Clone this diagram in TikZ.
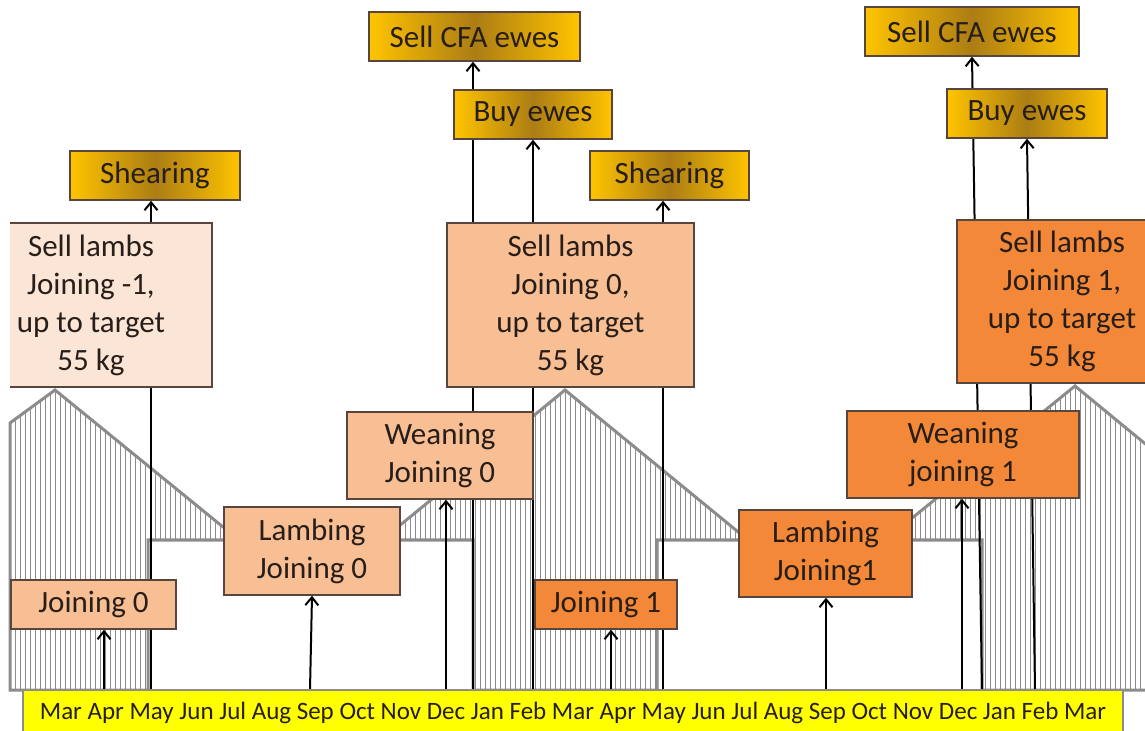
\documentclass[tikz,border=0pt]{standalone}
\usepackage{fontspec}
\setmainfont{Carlito}
\usepackage{xcolor}
\definecolor{grey50}{gray}{.50}
\definecolor{grey55}{gray}{.55}
\definecolor{edge}{RGB}{88,70,62}
\definecolor{ink}{RGB}{40,30,25}
\definecolor{goldlight}{RGB}{255,196,0}
\definecolor{golddark}{RGB}{172,125,20}
\definecolor{peachlight}{RGB}{251,229,214}
\definecolor{peach}{RGB}{248,190,148}
\definecolor{orangebox}{RGB}{243,136,56}
\definecolor{bandyellow}{RGB}{255,255,0}
\usepackage{tikz}
\usetikzlibrary{positioning,arrows.meta,backgrounds,patterns.meta}

\begin{document}
\begin{tikzpicture}[
    x=0.5pt, y=-0.5pt,
    font=\fontsize{15.5}{19}\selectfont,
    event/.style={rectangle, draw=edge, line width=0.7pt, left color=goldlight,
      right color=goldlight, middle color=golddark, minimum height=24.5pt, text=ink},
    stage/.style={rectangle, draw=edge, line width=0.7pt, align=center,
      text=ink, inner sep=2pt},
    flock/.style={draw=grey55, line width=1.5pt, line join=miter,
      pattern={Lines[angle=90, distance=2.5pt, line width=0.5pt]},
      pattern color=grey55},
    link/.style={->, line width=1pt},
    >={Straight Barb[length=4pt, width=6.5pt]}
  ]
    \useasboundingbox (0,0) rectangle (1145,731);
    \clip (10,-20) rectangle (1200,760);

    % events on top
    \node[event, minimum width=85pt] (shearA) at (155,175.5) {Shearing};
    \node[event, minimum width=105.5pt] (cfaA) at (474.5,36.5) {Sell CFA ewes};
    \node[event, minimum width=79pt] (buyA) at (533,114.5) {Buy ewes};
    \node[event, minimum width=79.5pt] (shearB) at (669.5,175.5) {Shearing};
    \node[event, minimum width=107pt] (cfaB) at (972,31.5) {Sell CFA ewes};
    \node[event, minimum width=80pt] (buyB) at (1027,113.5) {Buy ewes};

    % lamb sales
    \node[stage, fill=peachlight, minimum width=121pt, minimum height=82pt] (sellA) at (91,305)
      {Sell lambs\\Joining -1,\\up to target\\55 kg};
    \node[stage, fill=peach, minimum width=123.5pt, minimum height=82pt] (sellB) at (570.5,305)
      {Sell lambs\\Joining 0,\\up to target\\55 kg};
    \node[stage, fill=orangebox, minimum width=105pt, minimum height=81.5pt] (sellC) at (1062,301.5)
      {Sell lambs\\Joining 1,\\up to target\\55 kg};

    % weaning, lambing, joining
    \node[stage, fill=peach, minimum width=93pt, minimum height=43.5pt] (weanA) at (440,455.5) {Weaning\\Joining 0};
    \node[stage, fill=orangebox, minimum width=116pt, minimum height=43.5pt] (weanB) at (963,454.5) {Weaning\\joining 1};
    \node[stage, fill=peach, minimum width=88pt, minimum height=44pt] (lambA) at (312,551) {Lambing\\Joining 0};
    \node[stage, fill=orangebox, minimum width=86.5pt, minimum height=43.5pt] (lambB) at (825.5,553.5) {Lambing\\Joining1};
    \node[stage, fill=peach, minimum width=82.5pt, minimum height=24.5pt] (join0) at (93.5,604.5) {Joining 0};
    \node[stage, fill=orangebox, minimum width=71pt, minimum height=24.5pt] (join1) at (606,604.5) {Joining 1};

    % month axis
    \node[draw=grey55, line width=0.8pt, fill=bandyellow, minimum width=550pt,
      minimum height=23pt] (band) at (573,713) {};
    \node[font=\fontsize{12.5}{14}\selectfont, text=ink, inner sep=0pt] (months) at (573,713)
      {Mar Apr May Jun Jul Aug Sep Oct Nov Dec Jan Feb Mar Apr May Jun Jul Aug Sep Oct Nov Dec Jan Feb Mar};

    \coordinate (apr1) at (104,690);
    \coordinate (may1) at (151,690);
    \coordinate (sep1) at (310,690);
    \coordinate (dec1) at (446,690);
    \coordinate (jan1) at (473,690);
    \coordinate (feb1) at (533,690);
    \coordinate (apr2) at (611,690);
    \coordinate (may2) at (663,690);
    \coordinate (sep2) at (826,690);
    \coordinate (dec2) at (962,690);
    \coordinate (jan2) at (982,690);
    \coordinate (feb2) at (1035,690);

    \begin{scope}[on background layer]
      % flock size
      \draw[flock] (10,690) -- (10,423) -- (55,390) -- (239,540) -- (382,540)
        -- (565,390) -- (748,540) -- (885,540) -- (1075,386) -- (1160,456)
        -- (1160,690) -- (982,690) -- (982,540) -- (657,540) -- (657,690)
        -- (473,690) -- (473,540) -- (148,540) -- (148,690) -- cycle;

      \draw[link] (apr1) -- (apr1 |- join0.south);
      \draw[link] (may1) -- (may1 |- shearA.south);
      \draw[link] (sep1) -- (lambA.south);
      \draw[link] (dec1) -- (dec1 |- weanA.south);
      \draw[link] (jan1) -- (jan1 |- cfaA.south);
      \draw[link] (feb1) -- (feb1 |- buyA.south);
      \draw[link] (apr2) -- (apr2 |- join1.south);
      \draw[link] (may2) -- (may2 |- shearB.south);
      \draw[link] (sep2) -- (sep2 |- lambB.south);
      \draw[link] (dec2) -- (dec2 |- weanB.south);
      \draw[link] (jan2) -- (cfaB.south);
      \draw[link] (feb2) -- (buyB.south);
    \end{scope}
  \end{tikzpicture}
\end{document}
